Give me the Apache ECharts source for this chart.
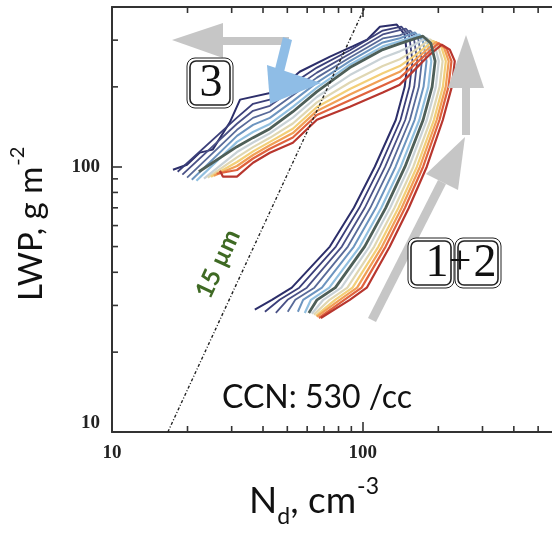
<!DOCTYPE html>
<html><head><meta charset="utf-8">
<script src="https://cdn.jsdelivr.net/npm/echarts@6/dist/echarts.min.js"></script>
<style>html,body{margin:0;padding:0;background:#fff}#c{width:552px;height:534px}</style>
</head><body><div id="c"></div>
<script>
// ---- axes ----
const xRange = [10, 600];
const yRange = [10, 400];
const xMinorTicks = [20, 30, 40, 50, 60, 70, 80, 90, 200, 300, 400, 500];
const yMinorTicks = [20, 30, 40, 50, 60, 70, 80, 90, 200, 300];
// ---- 15 um reference line (Nd, LWP) ----
const line15um = [[16.7, 10], [102, 400]];
// ---- trajectories (Nd cm^-3, LWP g m^-2), navy -> red ----
const line00 = [[37.1,28.9],[43.4,31.5],[52.1,35],[73.9,50],[92.1,70],[111.6,100],[135.3,150],[146.9,200],[151.0,250],[146.9,314.8],[136.6,343.5],[117,337],[104,301],[91,284],[74,260],[56,228],[45.4,192],[32.4,179],[29.5,147],[25.2,116],[22.4,113],[19.9,101.7],[17.5,97.4]];
const line01 = [[40.7,28.4],[46.6,31.5],[55.8,35],[78.1,50],[96.8,70],[117.1,100],[141.3,150],[153.4,200],[157.7,250],[153.2,310.8],[142.4,337.6],[120.1,326.1],[88.8,274.9],[65.6,236.4],[52.6,206.1],[42.6,179.0],[36.5,172.7],[31.5,153.1],[18.27,95.7]];
const line02 = [[45.0,28.1],[50.1,31.5],[59.8,35],[82.5,50],[101.8,70],[122.8,100],[147.6,150],[160.3,200],[164.8,250],[159.7,306.8],[148.4,331.8],[120.1,315.1],[88.8,266.6],[65.6,226.3],[52.6,195.8],[42.6,169.7],[36.5,162.5],[31.5,145.2],[19.08,93.3]];
const line03 = [[50.2,28.4],[53.8,31.5],[64.1,35],[87.2,50],[107.1,70],[128.8,100],[154.0,150],[167.3,200],[172.0,250],[166.4,302.8],[154.6,326.1],[140.4,312.6],[120.1,304.4],[88.8,258.1],[65.6,216.7],[52.6,186.0],[42.6,161.1],[36.5,152.8],[31.5,137.8],[19.92,90.9]];
const line04 = [[55.1,28.4],[57.8,31.5],[68.7,35],[92.1,50],[112.7,70],[135.1,100],[160.8,150],[174.6,200],[179.5,250],[173.4,298.9],[161.2,320.5],[140.4,305.0],[120.1,294.0],[88.8,250.0],[65.6,207.5],[52.6,176.7],[42.6,152.8],[36.5,143.7],[31.5,130.7],[20.8,89.3]];
const line05 = [[58.7,28.1],[62.1,31.5],[73.5,35],[97.3,50],[118.5,70],[141.7,100],[168.0,150],[182.4,200],[187.5,250],[180.7,295.0],[168.0,314.8],[140.4,297.1],[120.1,284.1],[88.8,242.4],[65.6,198.7],[52.6,168.0],[42.6,145.0],[36.5,135.2],[31.5,124.1],[21.71,88.5]];
const line06 = [[60.9,28.1],[65.7,31.5],[77.7,35],[101.7,50],[123.4,70],[147.3,100],[173.9,150],[188.9,200],[194.2,250],[186.7,292.0],[173.6,310.5],[161.2,304.1],[140.4,291.1],[120.1,276.4],[88.8,236.4],[65.6,191.9],[52.6,161.2],[42.6,139.1],[36.5,128.7],[31.5,119.0],[22.2,95.7]];
const line07 = [[62.6,27.9],[69.6,31.5],[82.1,35],[106.2,50],[128.5,70],[152.9,100],[179.9,150],[195.4,200],[200.9,250],[193.1,288.9],[179.4,306.2],[161.2,288.9],[140.4,272.2],[120.1,257.4],[88.8,221.6],[65.6,183.2],[52.6,153.2],[42.6,133.7],[36.5,123.4],[31.5,113.6],[23.26,90.1]];
const line08 = [[63.8,27.7],[73.7,31.5],[86.8,35],[111.0,50],[133.8,70],[159.0,100],[186.3,150],[202.3,200],[208.0,250],[199.5,285.9],[185.4,302.0],[161.2,274.5],[140.4,254.2],[120.1,239.8],[88.8,207.7],[65.6,174.8],[52.6,145.5],[42.6,128.5],[36.5,118.5],[31.5,108.4],[24.08,90.9]];
const line09 = [[65.0,27.4],[77.5,31.5],[91.0,35],[115.4,50],[138.7,70],[164.3,100],[192.0,150],[208.5,200],[214.3,250],[205.4,283.3],[190.8,298.3],[161.2,262.4],[140.4,239.5],[120.1,225.2],[88.8,196.3],[65.6,168.0],[52.6,139.1],[42.6,124.1],[36.5,114.2],[31.5,104.2],[24.82,91.7]];
const line10 = [[65.6,27.2],[80.9,31.5],[94.9,35],[119.3,50],[142.9,70],[169.0,100],[197.0,150],[214.0,200],[220.0,250],[210.6,281.1],[195.6,295.3],[161.2,252.5],[140.4,227.8],[120.1,213.5],[88.8,187.1],[65.6,162.3],[52.6,133.9],[42.6,120.4],[36.5,110.7],[31.5,100.6],[25.47,92.5]];
const line11 = [[66.8,26.9],[84.4,31.5],[98.9,35],[123.3,50],[147.3,70],[174.0,100],[202.1,150],[219.5,200],[225.6,250],[215.9,278.9],[200.5,292.2],[161.2,243.0],[140.4,216.3],[120.1,202.5],[88.8,178.2],[65.6,156.7],[52.6,128.9],[42.6,116.9],[36.5,107.4],[31.5,97.2],[26.13,94.1]];
const line12 = [[68.0,26.9],[88.7,31.5],[103.7,35],[128.1,50],[152.6,70],[179.9,100],[208.4,150],[226.3,200],[232.6,250],[222.2,276.4],[206.4,288.7],[184.9,264.7],[161.2,232.3],[140.4,203.9],[120.1,190.3],[88.8,168.4],[65.6,150.4],[52.6,123.2],[42.6,112.9],[36.5,103.5],[31.5,91.7],[27.7,91.7],[26.94,96.5]];
const trajectories = [line00,line01,line02,line03,line04,line05,line06,line07,line08,line09,line10,line11,line12];
const trajColors = ['#2c2e6a','#3b3f79','#4a5186','#586a98','#6c94bf','#92c0e0','#4e5f58','#c9d2d6','#e0d7b2','#f3cf78','#f19f56','#e0623d','#b8362e'];
const trajWidths = [2,1.8,1.8,1.8,2,2.2,2.8,2.2,2.2,2.2,2.2,2.2,2.2];

const FONT = "Lato, 'Liberation Sans', sans-serif";
const SERIF = "'Liberation Serif', 'DejaVu Serif', serif";
const chart = echarts.init(document.getElementById('c'), null, {renderer: 'canvas'});

const ctx = document.createElement('canvas').getContext('2d');
function tw(s, font) { ctx.font = font; return ctx.measureText(s).width; }

const axisCommon = {
  type: 'log', logBase: 10, min: xRange[0], max: xRange[1],
  axisLine: {show: true, lineStyle: {color: '#333', width: 2}},
  axisTick: {show: true, inside: true, length: 10, lineStyle: {color: '#333', width: 1.6}},
  splitLine: {show: false}
};

const series = [];
trajectories.forEach((d, i) => {
  series.push({type: 'line', data: d, showSymbol: false, symbol: 'none', silent: true, animation: false,
    lineStyle: {color: trajColors[i], width: trajWidths[i]}, z: 2 + (i === 6 ? 1 : 0)});
});
series.push({type: 'line', data: line15um, showSymbol: false, symbol: 'none', silent: true, animation: false,
  lineStyle: {color: '#222', width: 1.4, type: [3, 2, 1, 2]}, z: 5});
// minor ticks (x bottom + top)
series.push({type: 'custom', clip: false, silent: true, animation: false, z: 6,
  data: xMinorTicks.map(v => [v, yRange[0]]),
  renderItem: (p, api) => {
    const v = api.value(0);
    const b = api.coord([v, yRange[0]]), t = api.coord([v, yRange[1]]);
    const st = {stroke: '#333', lineWidth: 1.6};
    return {type: 'group', children: [
      {type: 'line', shape: {x1: b[0], y1: b[1], x2: b[0], y2: b[1] - 6}, style: st},
      {type: 'line', shape: {x1: t[0], y1: t[1], x2: t[0], y2: t[1] + 6}, style: st}]};
  }});
series.push({type: 'custom', clip: false, silent: true, animation: false, z: 6,
  data: yMinorTicks.map(v => [xRange[0], v]),
  renderItem: (p, api) => {
    const v = api.value(1);
    const l = api.coord([xRange[0], v]);
    return {type: 'line', shape: {x1: l[0], y1: l[1], x2: l[0] + 6, y2: l[1]}, style: {stroke: '#333', lineWidth: 1.6}};
  }});

// ---- annotations ----
const gray = '#c6c6c6';
function box(x, y, w, h) {
  return [
    {type: 'rect', z: 100, shape: {x: x, y: y, width: w, height: h, r: 8}, style: {fill: '#fff', stroke: '#222', lineWidth: 1}},
    {type: 'rect', z: 101, shape: {x: x + 3, y: y + 3, width: w - 6, height: h - 6, r: 6}, style: {fill: 'none', stroke: '#222', lineWidth: 1.6}}
  ];
}
const yTitleFont = '33px ' + FONT;
const yTitleW = tw('LWP, g m', yTitleFont);
const xMainFont = '37px ' + FONT;
const wN = tw('N', xMainFont), wd = tw('d', '23px ' + FONT), wcm = tw(', cm', xMainFont);
const x0 = 249;

const graphic = [
  // diagonal arrow
  {type: 'polygon', z: 90, shape: {points: [[368,318],[376,322],[446,184],[438,180]]}, style: {fill: gray}},
  {type: 'polygon', z: 90, shape: {points: [[426,174],[465,137],[458,190]]}, style: {fill: gray}},
  // vertical arrow
  {type: 'polygon', z: 90, shape: {points: [[462,135],[470,135],[470,87],[462,87]]}, style: {fill: gray}},
  {type: 'polygon', z: 90, shape: {points: [[448,88],[484,88],[466,35]]}, style: {fill: gray}},
  // horizontal arrow
  {type: 'polygon', z: 90, shape: {points: [[222,37],[289,37],[289,45],[222,45]]}, style: {fill: gray}},
  {type: 'polygon', z: 90, shape: {points: [[223,23],[223,58],[172,40]]}, style: {fill: gray}},
  // blue arrow
  {type: 'polygon', z: 91, shape: {points: [[283,37],[292,40],[283,76],[274,73]]}, style: {fill: '#8fbde6'}},
  {type: 'polygon', z: 91, shape: {points: [[267,65],[270,104],[321,83]]}, style: {fill: '#8fbde6'}},
  ...box(187, 58, 46, 50),
  {type: 'text', z: 102, x: 211, y: 84, style: {text: '3', font: '46px ' + SERIF, fill: '#111', align: 'center', verticalAlign: 'middle'}},
  ...box(408, 238, 46, 50),
  ...box(455, 238, 46, 50),
  {type: 'text', z: 102, x: 437, y: 264, style: {text: '1', font: '46px ' + SERIF, fill: '#111', align: 'center', verticalAlign: 'middle'}},
  {type: 'text', z: 103, x: 460, y: 262, style: {text: '+', font: '40px ' + SERIF, fill: '#111', align: 'center', verticalAlign: 'middle'}},
  {type: 'text', z: 102, x: 485, y: 264, style: {text: '2', font: '46px ' + SERIF, fill: '#111', align: 'center', verticalAlign: 'middle'}},
  // CCN
  {type: 'text', z: 102, x: 222, y: 398, style: {text: 'CCN: 530 /cc', font: '32px ' + FONT, fill: '#111', align: 'left', verticalAlign: 'middle'}},
  // 15 um label
  {type: 'text', z: 102, x: 218, y: 264, rotation: 65 * Math.PI / 180, style: {text: '15 µm', font: 'bold 25px ' + FONT, fill: '#3f6a24', align: 'center', verticalAlign: 'middle'}},
  // y title
  {type: 'group', x: 31, y: 301, rotation: Math.PI / 2, children: [
    {type: 'text', x: 0, y: 0, style: {text: 'LWP, g m', font: yTitleFont, fill: '#111', align: 'left', verticalAlign: 'middle'}},
    {type: 'text', x: yTitleW + 1, y: -13, style: {text: '-2', font: '20px ' + FONT, fill: '#111', align: 'left', verticalAlign: 'middle'}}
  ]},
  // x title
  {type: 'text', x: x0, y: 501, style: {text: 'N', font: xMainFont, fill: '#111', align: 'left', verticalAlign: 'middle'}},
  {type: 'text', x: x0 + wN, y: 517, style: {text: 'd', font: '23px ' + FONT, fill: '#111', align: 'left', verticalAlign: 'middle'}},
  {type: 'text', x: x0 + wN + wd, y: 501, style: {text: ', cm', font: xMainFont, fill: '#111', align: 'left', verticalAlign: 'middle'}},
  {type: 'text', x: x0 + wN + wd + wcm + 1, y: 487, style: {text: '-3', font: '23px ' + FONT, fill: '#111', align: 'left', verticalAlign: 'middle'}}
];

const labelStyle = {fontFamily: SERIF, fontWeight: 'bold', fontSize: 19, color: '#222'};
chart.setOption({
  animation: false,
  backgroundColor: '#fff',
  grid: {left: 112, top: 7, width: 446, height: 425, containLabel: false, outerBoundsMode: 'none'},
  xAxis: [
    Object.assign({}, axisCommon, {position: 'bottom',
      axisLabel: Object.assign({show: true, showMaxLabel: false, margin: 12, formatter: v => String(Math.round(v))}, labelStyle)}),
    Object.assign({}, axisCommon, {position: 'top', axisLabel: {show: false}})
  ],
  yAxis: [{
    type: 'log', logBase: 10, min: yRange[0], max: yRange[1],
    axisLine: {show: true, lineStyle: {color: '#333', width: 2}},
    axisTick: {show: true, inside: true, length: 10, lineStyle: {color: '#333', width: 1.6}},
    splitLine: {show: false},
    axisLabel: Object.assign({show: true, showMaxLabel: false, margin: 12,
      formatter: v => Math.round(v) === 10 ? '{lo|10}' : String(Math.round(v)),
      rich: {lo: Object.assign({padding: [0, 0, 18, 0]}, labelStyle)}}, labelStyle)
  }],
  series: series,
  graphic: graphic
});
</script></body></html>
